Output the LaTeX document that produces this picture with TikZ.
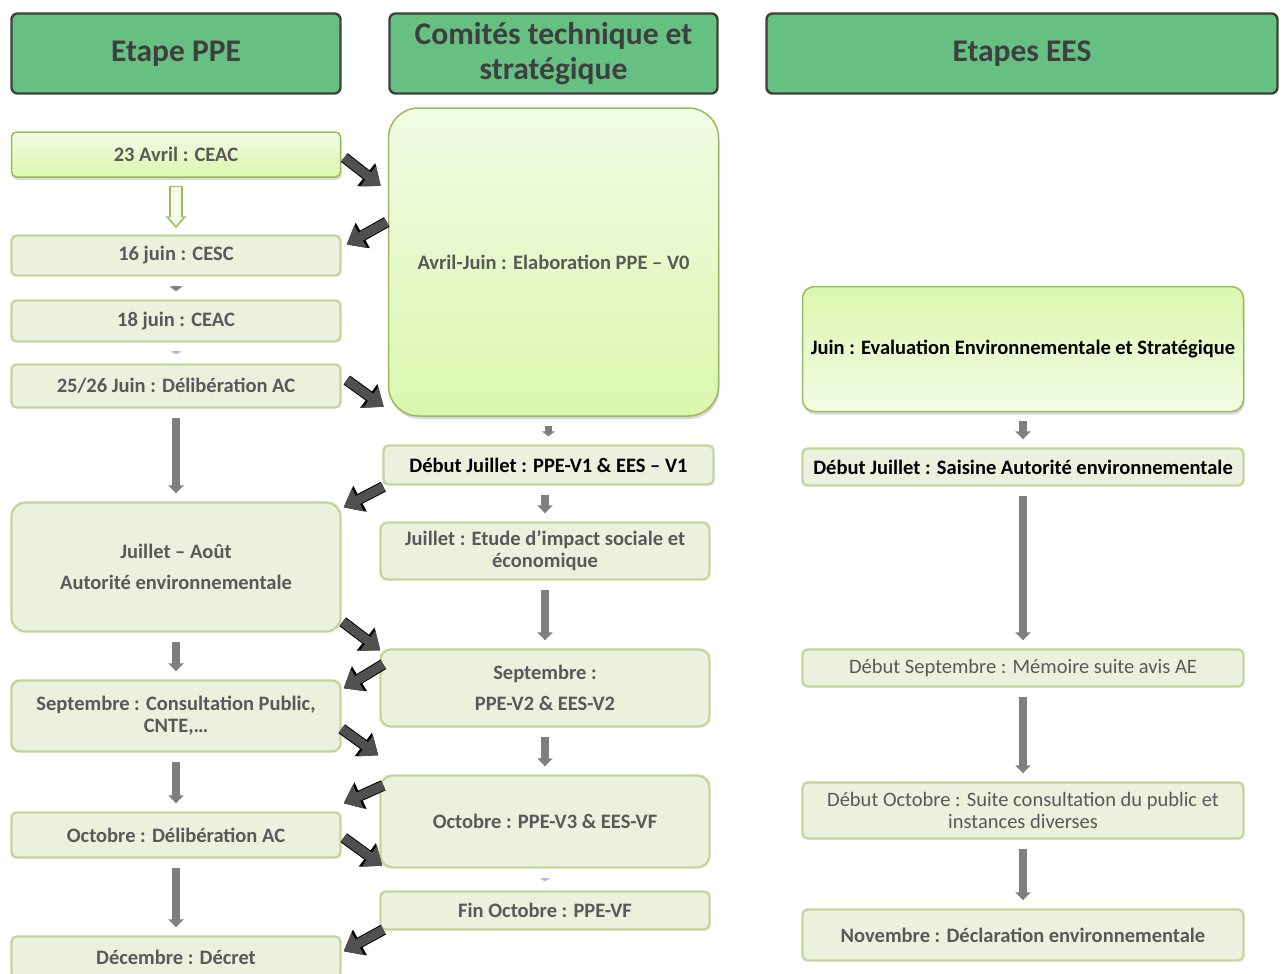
\documentclass[tikz,border=0pt]{standalone}
\usepackage{fontspec}
\setmainfont{Carlito}
\usetikzlibrary{positioning,arrows.meta,shadows,calc}
\definecolor{hdfill}{HTML}{66C082}
\definecolor{hdline}{HTML}{3F3F3F}
\definecolor{boxfill}{HTML}{EBF1DE}
\definecolor{boxline}{HTML}{C3D69B}
\definecolor{litline}{HTML}{9BBB59}
\definecolor{litA}{HTML}{F2FCE6}
\definecolor{litB}{HTML}{DCF6AD}
\definecolor{txtgray}{HTML}{595959}
\definecolor{arrgray}{HTML}{7F7F7F}
\definecolor{arrdark}{HTML}{505050}
\definecolor{arrblue}{HTML}{A9BEE0}
\tikzstyle{head}=[draw=hdline, fill=hdfill, line width=2.4pt, rounded corners=6pt, text=hdline, font=\bfseries\fontsize{31.5}{35}\selectfont, align=center, inner sep=0pt, minimum height=80pt]
\tikzstyle{evt}=[draw=boxline, fill=boxfill, line width=2.4pt, rounded corners=5pt, text=txtgray, font=\bfseries\fontsize{20.5}{22}\selectfont, align=center, inner sep=0pt]
\tikzstyle{lit}=[draw=litline, line width=1.5pt, top color=litA, bottom color=litB, rounded corners=6pt, drop shadow={opacity=0.3, shadow xshift=1pt, shadow yshift=-3pt}, text=txtgray, font=\bfseries\fontsize{20.5}{22}\selectfont, align=center, inner sep=0pt]
\tikzstyle{blk}=[text=black]
\tikzstyle{lightfont}=[font=\fontsize{20.5}{22}\selectfont]
\tikzstyle{c1}=[minimum width=329pt]
\tikzstyle{c3}=[minimum width=441pt]
\tikzstyle{dnarr}=[arrgray, line width=8pt, -{Triangle[length=8pt,width=15pt]}, shorten <=9pt, shorten >=8pt]
\tikzstyle{smallarr}=[arrgray, line width=7pt, -{Triangle[length=5pt,width=13pt]}, shorten <=9pt, shorten >=8pt]
\tikzstyle{tinyarr}=[arrblue, line width=6pt, -{Triangle[length=3pt,width=11pt]}, shorten <=9pt, shorten >=9pt]
\tikzstyle{bigarr}=[arrdark, line width=9pt, -{Triangle[length=16pt,width=25pt]}, preaction={draw=black, line width=11pt, -{Triangle[length=18.5pt,width=28pt]}}]

\begin{document}
\begin{tikzpicture}[x=1pt,y=-1pt,>=latex]
\useasboundingbox (0,0) rectangle (1282,974);

% column titles
\node[head, c1] (hppe) at (176,53.5) {Etape PPE};
\node[head, minimum width=328pt] (hcom) at (553.5,53.5) {Comités technique et\\stratégique};
\node[head, minimum width=511pt] (hees) at (1022,53.5) {Etapes EES};

% Etape PPE
\node[lit, c1, minimum height=45pt, rounded corners=5pt] (ceac) at (176,154.5) {23 Avril : CEAC};
\node[evt, c1, minimum height=40pt, below of = ceac, node distance = 101pt] (cesc) {16 juin : CESC};
\node[evt, c1, minimum height=41pt, below of = cesc, node distance = 65.5pt] (ceacb) {18 juin : CEAC};
\node[evt, c1, minimum height=43pt, below of = ceacb, node distance = 65pt] (delib) {25/26 Juin : Délibération AC};
\node[evt, c1, minimum height=129pt, rounded corners=14pt, below of = delib, node distance = 181pt] (juil) {Juillet – Août\\[9pt]Autorité environnementale};
\node[evt, c1, minimum height=71pt, rounded corners=8pt, below of = juil, node distance = 149pt] (cons) {Septembre : Consultation Public,\\CNTE,…};
\node[evt, c1, minimum height=45pt, below of = cons, node distance = 119pt] (octd) {Octobre : Délibération AC};
\node[evt, c1, minimum height=41pt, below of = octd, node distance = 122pt] (dec) {Décembre : Décret};

% Comites
\node[lit, minimum width=330pt, minimum height=308pt, rounded corners=30pt] (v0) at (553.5,262) {Avril-Juin : Elaboration PPE – V0};
\node[evt, blk, minimum width=330pt, minimum height=39pt] (v1) at (548.5,465) {Début Juillet : PPE-V1 \& EES – V1};
\node[evt, c1, minimum height=57pt, rounded corners=7pt] (etude) at (545,551) {Juillet : Etude d’impact sociale et\\économique};
\node[evt, c1, minimum height=77pt, rounded corners=10pt] (sepv) at (545,688) {Septembre :\\[9pt]PPE-V2 \& EES-V2};
\node[evt, c1, minimum height=92pt, rounded corners=12pt] (octv) at (545,821.5) {Octobre : PPE-V3 \& EES-VF};
\node[evt, c1, minimum height=38pt] (fin) at (545,910.5) {Fin Octobre : PPE-VF};

% Etapes EES
\node[lit, blk, c3, minimum height=125pt, rounded corners=12pt, top color=litB, bottom color=litA] (ees) at (1023,349) {Juin : Evaluation Environnementale et Stratégique};
\node[evt, blk, c3, minimum height=37pt, below of = ees, node distance = 118pt] (saisine) {Début Juillet : Saisine Autorité environnementale};
\node[evt, lightfont, c3, minimum height=37pt, below of = saisine, node distance = 201pt] (memoire) {Début Septembre : Mémoire suite avis AE};
\node[evt, lightfont, c3, minimum height=56pt, below of = memoire, node distance = 142.5pt] (suite) {Début Octobre : Suite consultation du public et\\instances diverses};
\node[evt, c3, minimum height=51pt, below of = suite, node distance = 124.5pt] (decl) {Novembre : Déclaration environnementale};

% down arrows
\draw[litline, line width=14pt, -{Triangle[length=12pt,width=20pt]}, shorten <=8pt, shorten >=6pt] (ceac.south) -- (cesc.north);
\draw[litA, line width=10pt, -{Triangle[length=8.5pt,width=14pt]}, shorten <=9.5pt, shorten >=8.5pt] (ceac.south) -- (cesc.north);
\draw[smallarr] (cesc.south) -- (ceacb.north);
\draw[tinyarr] (ceacb.south) -- (delib.north);
\draw[dnarr] (delib.south) -- (juil.north);
\draw[dnarr] (juil.south) -- (cons.north);
\draw[dnarr] (cons.south) -- (octd.north);
\draw[dnarr] (octd.south) -- (dec.north);

\draw[smallarr] (v1.north |- v0.south) -- (v1.north);
\draw[dnarr] (v1.south -| etude.north) -- (etude.north);
\draw[dnarr] (etude.south) -- (sepv.north);
\draw[dnarr] (sepv.south) -- (octv.north);
\draw[tinyarr] (octv.south) -- (fin.north);

\draw[dnarr] (ees.south) -- (saisine.north);
\draw[dnarr] (saisine.south) -- (memoire.north);
\draw[dnarr] (memoire.south) -- (suite.north);
\draw[dnarr] (suite.south) -- (decl.north);

% exchanges between columns
\draw[bigarr] ($(ceac.east)+(3,3)$) -- ($(v0.west)+(-7,-76)$);
\draw[bigarr] ($(v0.west)+(-1,-40)$) -- ($(cesc.east)+(5,-11)$);
\draw[bigarr] ($(delib.east)+(5,-6)$) -- ($(v0.south west)+(-4,-10)$);
\draw[bigarr] ($(v1.south west)+(1,1)$) -- ($(juil.north east)+(2,6)$);
\draw[bigarr] ($(juil.south east)+(1,-11)$) -- ($(sepv.north west)+(1,2)$);
\draw[bigarr] ($(sepv.north west)+(4,16)$) -- ($(cons.north east)+(2,9)$);
\draw[bigarr] ($(cons.south east)+(0,-24)$) -- ($(octv.north west)+(-1,-19)$);
\draw[bigarr] ($(octv.north west)+(4,11)$) -- ($(octd.north east)+(2,-8)$);
\draw[bigarr] ($(octd.south east)+(2,-21)$) -- ($(octv.south west)+(3,-3)$);
\draw[bigarr] ($(fin.south west)+(4,-1)$) -- ($(dec.north east)+(2,16)$);
\end{tikzpicture}
\end{document}
